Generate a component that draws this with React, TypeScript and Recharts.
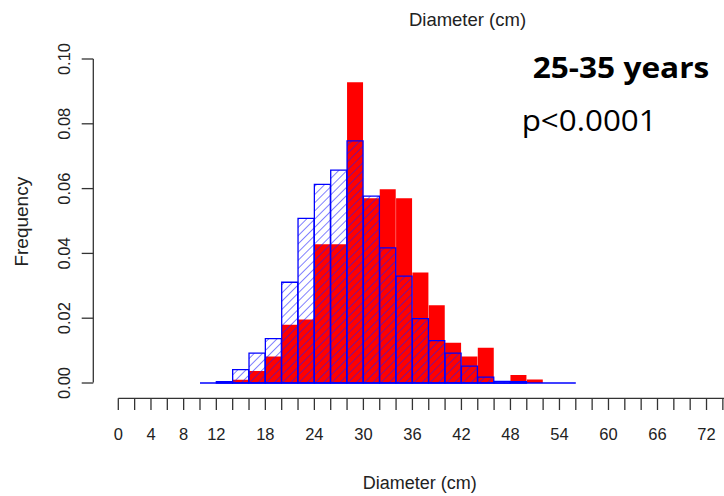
import React from 'react';
import { ComposedChart, Bar, XAxis, YAxis, ReferenceLine } from 'recharts';

// Histogram bins (2 cm wide) – bin midpoints
const binMids = [11, 13, 15, 17, 19, 21, 23, 25, 27, 29, 31, 33, 35, 37, 39, 41, 43, 45, 47, 49, 51, 53, 55];
// Red (solid) histogram frequencies
const redFreq = [0, 0, 0.001, 0.0037, 0.0082, 0.018, 0.0196, 0.0428, 0.0428, 0.0928, 0.057, 0.0598, 0.057, 0.0341, 0.024, 0.0124, 0.0082, 0.0109, 0, 0.0025, 0.0011, 0, 0];
// Blue (hatched) histogram frequencies
const blueFreq = [0, 0.0004, 0.0041, 0.0092, 0.0137, 0.0311, 0.0508, 0.0613, 0.0657, 0.0747, 0.0577, 0.0417, 0.033, 0.0199, 0.0131, 0.0092, 0.0052, 0.0018, 0.0005, 0.0004, 0, 0, 0];
const blueRange = [10, 56];

const xTicks = [0, 2, 4, 6, 8, 10, 12, 14, 16, 18, 20, 22, 24, 26, 28, 30, 32, 34, 36, 38, 40, 42, 44, 46, 48, 50, 52, 54, 56, 58, 60, 62, 64, 66, 68, 70, 72, 74];
const xTickLabels = [0, 4, 8, 12, 18, 24, 30, 36, 42, 48, 54, 60, 66, 72];
const yTicks = [0, 0.02, 0.04, 0.06, 0.08, 0.1];

const data = binMids.map((m, i) => ({ mid: m, red: redFreq[i], blue: blueFreq[i] }));

const FONT = '"Liberation Sans", Arial, sans-serif';
const AXIS = '#333';

const YTick = (props: any) => {
  const { x, y, payload } = props;
  return (
    <text
      x={x}
      y={y}
      transform={`rotate(-90, ${x}, ${y})`}
      textAnchor="middle"
      fontSize={16.5}
      fontFamily={FONT}
      fill="#222"
    >
      {Number(payload.value).toFixed(2)}
    </text>
  );
};

export default function App() {
  return (
    <div style={{ position: 'absolute', left: 0, top: 0, width: 724, height: 496, background: '#fff' }}>
      <ComposedChart
        width={724}
        height={496}
        data={data}
        margin={{ top: 59, right: 0, bottom: 37.7, left: 0 }}
        barCategoryGap={0}
        barGap={0}
      >
        <defs>
          <pattern id="hatch" patternUnits="userSpaceOnUse" width="5.8" height="10" patternTransform="rotate(45)">
            <line x1="0" y1="0" x2="0" y2="10" stroke="#1a1aff" strokeWidth="1.1" />
          </pattern>
        </defs>
        <XAxis
          xAxisId="main"
          dataKey="mid"
          type="number"
          domain={[-3.06, 74.14]}
          ticks={xTicks}
          interval={0}
          height={60}
          tickSize={11.7}
          tickMargin={18}
          tickFormatter={(v: number) => (xTickLabels.includes(v) ? String(v) : '')}
          tick={{ fontSize: 16.5, fontFamily: FONT, fill: '#222' }}
          tickLine={{ stroke: AXIS, strokeWidth: 1.3 }}
          axisLine={{ stroke: AXIS, strokeWidth: 1.3, strokeDasharray: '0 25 800' }}
          allowDataOverflow
        />
        <XAxis
          xAxisId="blueAxis"
          dataKey="mid"
          type="number"
          domain={[-3.06, 74.14]}
          orientation="top"
          height={0}
          hide
          allowDataOverflow
        />
        <YAxis
          type="number"
          domain={[-0.00472, 0.1]}
          ticks={yTicks}
          width={93.3}
          tickSize={11.6}
          tickMargin={11.7}
          tick={<YTick />}
          tickLine={{ stroke: AXIS, strokeWidth: 1.3 }}
          axisLine={{ stroke: AXIS, strokeWidth: 1.3, strokeDasharray: '323.5 100' }}
          allowDataOverflow
        />
        <Bar xAxisId="main" dataKey="red" fill="#ff0000" stroke="none" isAnimationActive={false} />
        <ReferenceLine
          xAxisId="blueAxis"
          segment={[{ x: blueRange[0], y: 0 }, { x: blueRange[1], y: 0 }]}
          stroke="#0000ff"
          strokeWidth={1.5}
        />
        <Bar
          xAxisId="blueAxis"
          dataKey="blue"
          fill="url(#hatch)"
          stroke="#0000ff"
          strokeWidth={1.3}
          isAnimationActive={false}
        />
        <text x={467.5} y={25.7} textAnchor="middle" fontSize={18.5} fontFamily={FONT} fill="#222">
          Diameter (cm)
        </text>
        <text x={419.7} y={489} textAnchor="middle" fontSize={18} fontFamily={FONT} fill="#222">
          Diameter (cm)
        </text>
        <text
          x={28}
          y={221.7}
          transform="rotate(-90, 28, 221.7)"
          textAnchor="middle"
          fontSize={19}
          fontFamily={FONT}
          fill="#222"
        >
          Frequency
        </text>
        <text
          x={532.7}
          y={77.7}
          fontSize={29}
          fontWeight="bold"
          fontFamily="'Open Sans', Lato, sans-serif"
          fill="#000"
          textLength={176.6}
          lengthAdjust="spacingAndGlyphs"
        >
          25-35 years
        </text>
        <text
          x={521.7}
          y={130.7}
          fontSize={30}
          fontFamily="'Open Sans', Lato, sans-serif"
          fill="#000"
          textLength={135}
          lengthAdjust="spacingAndGlyphs"
        >
          p&lt;0.0001
        </text>
      </ComposedChart>
    </div>
  );
}
